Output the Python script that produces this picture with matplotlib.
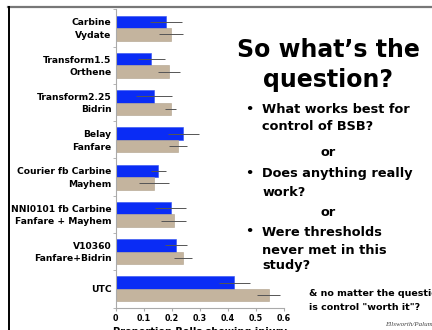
import matplotlib
matplotlib.use('Agg')
import matplotlib.pyplot as plt
from matplotlib.lines import Line2D
import numpy as np

# data
blue_labels = ['Carbine', 'Transform1.5', 'Transform2.25', 'Belay',
               'Courier fb Carbine', 'NNI0101 fb Carbine', 'V10360', 'UTC']
tan_labels = ['Vydate', 'Orthene', 'Bidrin', 'Fanfare',
              'Mayhem', 'Fanfare + Mayhem', 'Fanfare+Bidrin', '']
blue_vals = [0.180, 0.127, 0.137, 0.242, 0.153, 0.197, 0.215, 0.423]
blue_err = [0.057, 0.048, 0.065, 0.054, 0.028, 0.055, 0.039, 0.055]
tan_vals = [0.198, 0.190, 0.197, 0.224, 0.136, 0.207, 0.242, 0.545]
tan_err = [0.042, 0.040, 0.020, 0.032, 0.054, 0.045, 0.032, 0.042]
xticks = [0, 0.1, 0.2, 0.3, 0.4, 0.5, 0.6]

W, H = 432, 330
fig = plt.figure(figsize=(W / 100, H / 100), dpi=100)
plt.rcParams['font.family'] = ['DejaVu Sans']


def fx(px):
    return px / W


def fy(py):
    return 1 - py / H


# slide frame
fig.add_artist(Line2D([fx(8), 1], [fy(7), fy(7)], color='#777777', lw=1.6))
fig.add_artist(Line2D([fx(9), fx(9)], [fy(7), 0], color='black', lw=1.4))

ax = fig.add_axes([fx(115.5), fy(307.5), fx(284) - fx(115.5), fy(9.4) - fy(307.5)])
n = len(blue_vals)
y = np.arange(n)
h = 0.335
ax.barh(y - h / 2, blue_vals, height=h, color='#0a2cf5', edgecolor='#3050f0', lw=0.4)
ax.barh(y + h / 2, tan_vals, height=h, color='#c4b49e', edgecolor='#b0a08a', lw=0.4)
ax.errorbar(blue_vals, y - h / 2, xerr=blue_err, fmt='none', ecolor='#555555', elinewidth=0.7, capsize=0)
ax.errorbar(tan_vals, y + h / 2, xerr=tan_err, fmt='none', ecolor='#555555', elinewidth=0.7, capsize=0)

pos, labs = [], []
for i in range(n):
    if tan_labels[i]:
        pos += [i - h / 2, i + h / 2]
        labs += [blue_labels[i], tan_labels[i]]
    else:
        pos.append(i)
        labs.append(blue_labels[i])
ax.set_yticks(pos)
ax.set_yticklabels(labs, fontsize=6.6, fontweight='bold')
ax.set_yticks(np.arange(n + 1) - 0.5, minor=True)
ax.tick_params(axis='y', which='major', length=0, pad=3)
ax.tick_params(axis='y', which='minor', length=2.5, color='#aaaaaa')
ax.set_ylim(n - 0.5, -0.5)

ax.set_xlim(0, 0.6)
ax.set_xticks(xticks)
ax.set_xticklabels(['0' if t == 0 else f'{t:.1f}' for t in xticks], fontsize=5.8, fontweight='bold')
ax.tick_params(axis='x', length=2.5, color='#aaaaaa', pad=2)
ax.set_xlabel('Proportion Bolls showing injury', fontsize=7, fontweight='bold', labelpad=3)

for s in ['top', 'right']:
    ax.spines[s].set_visible(False)
ax.spines['left'].set_color('#aaaaaa')
ax.spines['bottom'].set_color('#aaaaaa')

# right side text
fig.text(fx(328), fy(50), 'So what’s the', fontsize=17, fontweight='bold', ha='center', va='center')
fig.text(fx(328), fy(80), 'question?', fontsize=17, fontweight='bold', ha='center', va='center')

bullets = [
    (110, '•', 'What works best for'),
    (126, '', 'control of BSB?'),
    (173, '•', 'Does anything really'),
    (192, '', 'work?'),
    (232, '•', 'Were thresholds'),
    (250, '', 'never met in this'),
    (266, '', 'study?'),
]
for py, b, t in bullets:
    if b:
        fig.text(fx(249), fy(py), b, fontsize=9.3, fontweight='bold', ha='center', va='center')
    fig.text(fx(262.5), fy(py), t, fontsize=9.3, fontweight='bold', ha='left', va='center')
for py in [153, 212]:
    fig.text(fx(328), fy(py), 'or', fontsize=9.3, fontweight='bold', ha='center', va='center')

fig.text(fx(309), fy(293), '& no matter the question', fontsize=6.8, fontweight='bold', ha='left', va='center')
fig.text(fx(309), fy(308), 'is control "worth it"?', fontsize=6.8, fontweight='bold', ha='left', va='center')
fig.text(fx(385), fy(325), 'Ellsworth/Palumbo', fontsize=5, style='italic', family='Liberation Serif',
         color='#444444', ha='left', va='center')

fig.savefig('out.png', dpi=100)
